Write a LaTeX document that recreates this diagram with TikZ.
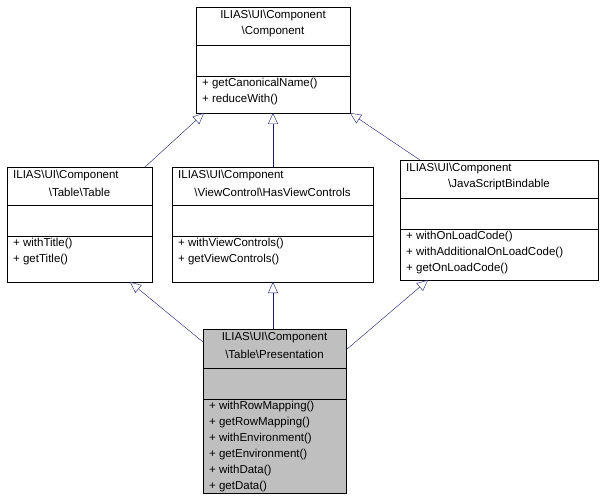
\documentclass[tikz,border=0pt]{standalone}
\usepackage{fontspec}
\setmainfont{Liberation Sans}
\usetikzlibrary{arrows.meta}
\definecolor{edgeblue}{HTML}{191970}
\tikzset{
  cls/.style={draw=black, fill=white, anchor=north west, inner sep=0pt},
  txt/.style={anchor=west, inner sep=0pt, font=\fontsize{11.5}{13}\selectfont},
  ctr/.style={anchor=center, inner sep=0pt, font=\fontsize{11.5}{13}\selectfont},
  inherit/.style={draw=edgeblue, -{Triangle[open, fill=white, length=11pt, width=10pt]}}
}
\begin{document}
\begin{tikzpicture}[x=1pt, y=-1pt]
\useasboundingbox (0,0) rectangle (605,500);
% Component
\node[cls, minimum width=154pt, minimum height=106pt] (comp) at (196,7) {};
\node[ctr] (compt1) at (273,16) {ILIAS\textbackslash UI\textbackslash Component};
\node[ctr] (compt2) at (273,32) {\textbackslash Component};
\draw (196,45) -- (350,45) (196,76) -- (350,76);
\node[txt] (compm1) at (202,84) {+ getCanonicalName()};
\node[txt] (compm2) at (202,100) {+ reduceWith()};
% Table
\node[cls, minimum width=145pt, minimum height=115pt] (table) at (7,167) {};
\node[txt] (tablet1) at (13,176) {ILIAS\textbackslash UI\textbackslash Component};
\node[ctr] (tablet2) at (79.5,192) {\textbackslash Table\textbackslash Table};
\draw (7,205) -- (152,205) (7,236) -- (152,236);
\node[txt] (tablem1) at (13,244) {+ withTitle()};
\node[txt] (tablem2) at (13,260) {+ getTitle()};
% HasViewControls
\node[cls, minimum width=201pt, minimum height=115pt] (hvc) at (172,167) {};
\node[txt] (hvct1) at (178,176) {ILIAS\textbackslash UI\textbackslash Component};
\node[ctr] (hvct2) at (272.5,192) {\textbackslash ViewControl\textbackslash HasViewControls};
\draw (172,205) -- (373,205) (172,236) -- (373,236);
\node[txt] (hvcm1) at (178,244) {+ withViewControls()};
\node[txt] (hvcm2) at (178,260) {+ getViewControls()};
% JavaScriptBindable
\node[cls, minimum width=198pt, minimum height=120pt] (jsb) at (400,160) {};
\node[txt] (jsbt1) at (406,169) {ILIAS\textbackslash UI\textbackslash Component};
\node[ctr] (jsbt2) at (499,185) {\textbackslash JavaScriptBindable};
\draw (400,198) -- (598,198) (400,229) -- (598,229);
\node[txt] (jsbm1) at (406,237) {+ withOnLoadCode()};
\node[txt] (jsbm2) at (406,253) {+ withAdditionalOnLoadCode()};
\node[txt] (jsbm3) at (406,269) {+ getOnLoadCode()};
% Presentation
\node[cls, fill={rgb,255:red,191;green,191;blue,191}, minimum width=143pt, minimum height=164pt] (pres) at (203,329) {};
\node[ctr] (prest1) at (274.5,338) {ILIAS\textbackslash UI\textbackslash Component};
\node[ctr] (prest2) at (274.5,354) {\textbackslash Table\textbackslash Presentation};
\draw (203,368) -- (346,368) (203,399) -- (346,399);
\node[txt] (presm1) at (209,407) {+ withRowMapping()};
\node[txt] (presm2) at (209,423) {+ getRowMapping()};
\node[txt] (presm3) at (209,439) {+ withEnvironment()};
\node[txt] (presm4) at (209,455) {+ getEnvironment()};
\node[txt] (presm5) at (209,471) {+ withData()};
\node[txt] (presm6) at (209,487) {+ getData()};
% inheritance
\coordinate (tableup) at (145,167);
\coordinate (hvcup) at (273,167);
\coordinate (jsbup) at (420,160);
\coordinate (compl) at (204,113);
\coordinate (compc) at (273,113);
\coordinate (compr) at (350,113);
\draw[inherit] (tableup) -- (compl);
\draw[inherit] (hvcup) -- (compc);
\draw[inherit] (jsbup) -- (compr);
\coordinate (presl) at (203,342);
\coordinate (presc) at (273,329);
\coordinate (presr) at (346,350);
\coordinate (tabled) at (130,282);
\coordinate (hvcd) at (273,282);
\coordinate (jsbd) at (428,280);
\draw[inherit] (presl) -- (tabled);
\draw[inherit] (presc) -- (hvcd);
\draw[inherit] (presr) -- (jsbd);
\end{tikzpicture}
\end{document}
